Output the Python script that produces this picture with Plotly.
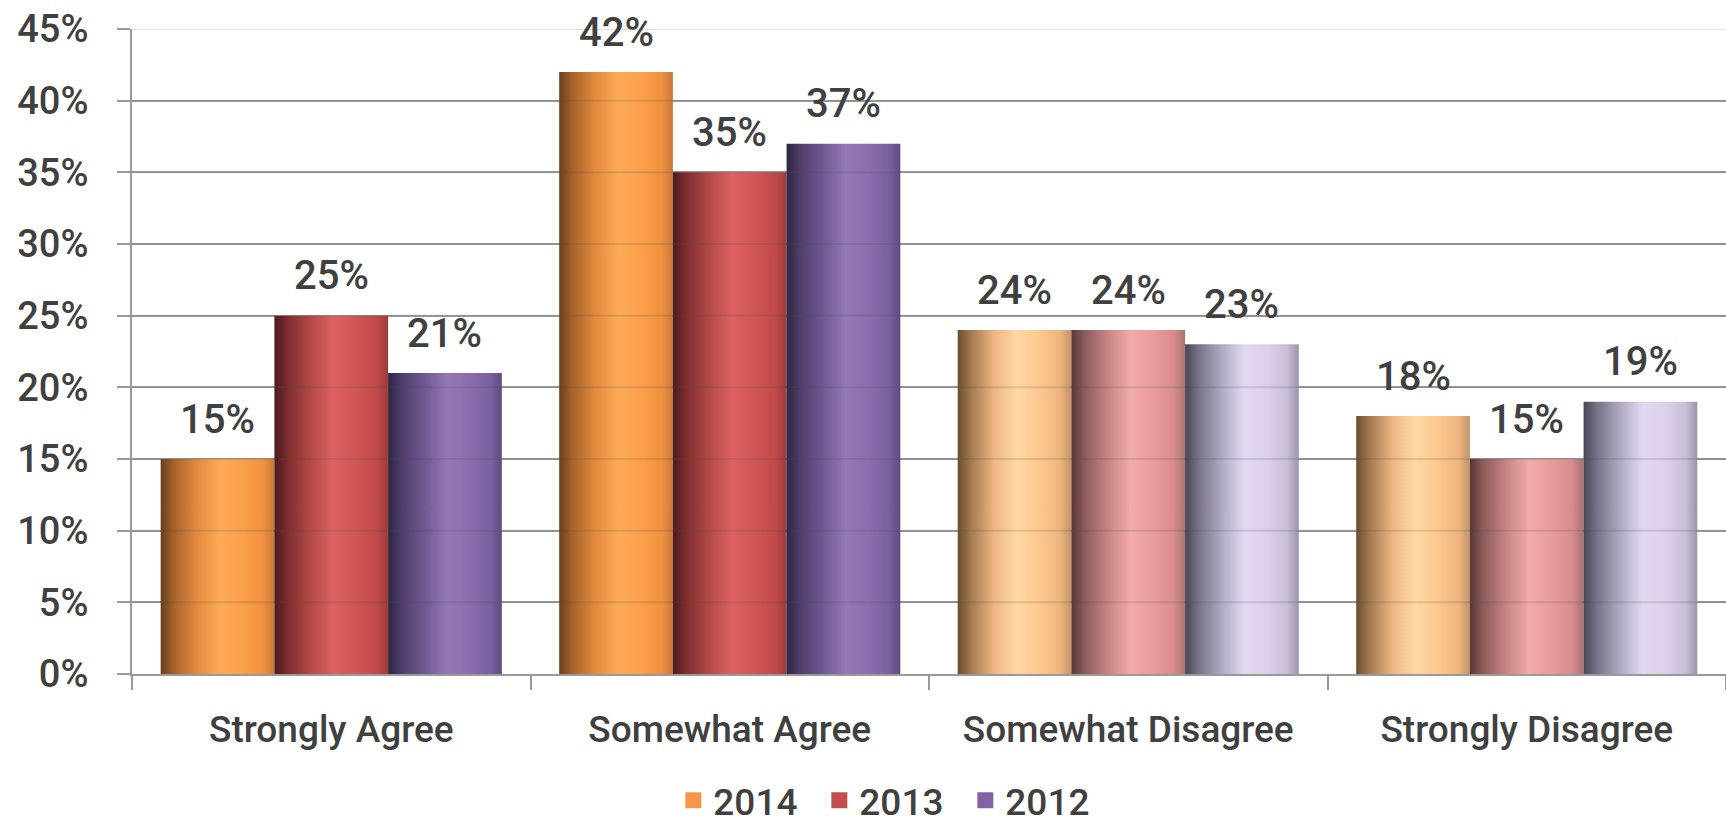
import plotly.graph_objects as go

# Survey responses by year (percent)
categories = ["Strongly Agree", "Somewhat Agree", "Somewhat Disagree", "Strongly Disagree"]
years = ["2014", "2013", "2012"]
values_2014 = [15, 42, 24, 18]
values_2013 = [25, 35, 24, 15]
values_2012 = [21, 37, 23, 19]
y_ticks = [0, 5, 10, 15, 20, 25, 30, 35, 40, 45]

series_values = [values_2014, values_2013, values_2012]
legend_colors = ["#f79646", "#c0504d", "#8064a2"]

# Cylinder-like horizontal shading: strong tones for the "agree" groups,
# pale tones for the "disagree" groups.
strong_shades = [
    ["#6a3f1c", "#a8642c", "#e48a3e", "#fdaa58", "#fca04a", "#f0913f", "#c87a38"],
    ["#4a1c1e", "#7e2e2e", "#b44a48", "#dc6262", "#d05656", "#c04a48", "#9c3c3c"],
    ["#2e2642", "#4e3e6c", "#6e5892", "#9478b6", "#8a6eae", "#7a60a0", "#5e4c80"],
]
pale_shades = [
    ["#6a4e2e", "#a47a50", "#eeb682", "#ffd8a2", "#fcc890", "#f0b47e", "#c09468"],
    ["#5a3636", "#8e5c5c", "#c88484", "#f2aaaa", "#e89c9c", "#d88c8c", "#a87474"],
    ["#484656", "#787488", "#b0a8c2", "#e2d8f0", "#dcd0ea", "#c8bcd6", "#9c94a8"],
]
shade_stops = [0.0, 0.12, 0.32, 0.52, 0.72, 0.9, 1.0]
pale_groups = {2, 3}

group_pad = 0.072
bar_w = (1 - 2 * group_pad) / len(years)

text_color = "#404040"
font_family = "Roboto, Liberation Sans, sans-serif"

fig = go.Figure()

for s, (year, vals) in enumerate(zip(years, series_values)):
    for c, v in enumerate(vals):
        x0 = c + group_pad + s * bar_w
        x1 = x0 + bar_w
        shades = pale_shades[s] if c in pale_groups else strong_shades[s]
        fig.add_trace(go.Scatter(
            x=[x0, x1, x1, x0, x0],
            y=[0, 0, v, v, 0],
            mode="lines",
            fill="toself",
            line=dict(width=0),
            fillgradient=dict(
                type="horizontal",
                colorscale=[[p, col] for p, col in zip(shade_stops, shades)],
            ),
            name=year,
            legendgroup=year,
            showlegend=False,
            hovertemplate=f"{categories[c]}<br>{year}: {v}%<extra></extra>",
        ))
        fig.add_annotation(
            x=(x0 + x1) / 2, y=v, text=f"{v}%",
            showarrow=False, yanchor="middle", yshift=40,
            font=dict(family=font_family, size=40, weight=500, color=text_color),
        )

# Legend entries with solid swatches
for year, col in zip(years, legend_colors):
    fig.add_trace(go.Scatter(
        x=[None], y=[None], mode="markers", name=year, legendgroup=year,
        marker=dict(symbol="square", size=16, color=col),
    ))

# Faint gridline bands visible through the bars
for t in y_ticks[1:]:
    fig.add_shape(type="line", xref="paper", x0=0, x1=1, y0=t, y1=t,
                  line=dict(color="rgba(80,80,80,0.18)", width=2), layer="above")

fig.update_layout(
    width=1726, height=829,
    margin=dict(l=132, r=0, t=29, b=155),
    plot_bgcolor="white", paper_bgcolor="white",
    showlegend=True,
    legend=dict(
        orientation="h", xref="container", x=0.517, xanchor="center",
        yref="container", y=0.034, yanchor="middle",
        font=dict(family=font_family, size=37, weight=500, color=text_color),
        itemwidth=30, entrywidth=101,
    ),
    xaxis=dict(
        range=[0, len(categories)],
        tickvals=[i + 0.5 for i in range(len(categories))],
        ticktext=categories,
        ticks="", showgrid=False,
        showline=True, linecolor="#9a9a9a", linewidth=2,
        tickfont=dict(family=font_family, size=37, weight=500, color=text_color),
        ticklabelstandoff=22,
        minor=dict(tickvals=list(range(len(categories) + 1)), ticks="outside",
                   ticklen=14, tickwidth=2, tickcolor="#9a9a9a", showgrid=False),
        zeroline=False,
    ),
    yaxis=dict(
        range=[0, 45],
        tickvals=y_ticks,
        ticktext=[f"{t}%" for t in y_ticks],
        ticks="outside", ticklen=13, tickwidth=2, tickcolor="#9a9a9a",
        showgrid=True, gridcolor="#a0a0a0", gridwidth=2,
        showline=True, linecolor="#9a9a9a", linewidth=2,
        tickfont=dict(family=font_family, size=38, weight=500, color=text_color),
        ticklabelstandoff=21,
        zeroline=False,
    ),
)

fig.write_html("out.html")
